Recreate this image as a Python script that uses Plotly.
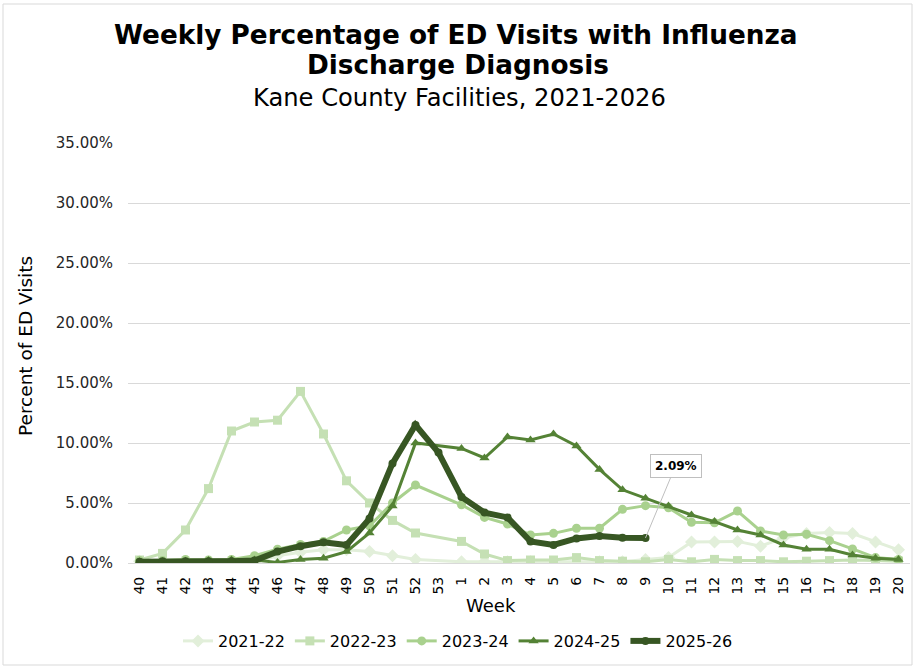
import plotly.graph_objects as go

weeks = ["40", "41", "42", "43", "44", "45", "46", "47", "48", "49", "50", "51", "52", "53",
         "1", "2", "3", "4", "5", "6", "7", "8", "9", "10", "11", "12", "13", "14", "15",
         "16", "17", "18", "19", "20"]

s2021_22 = [0.15, 0.1, 0.1, 0.1, 0.05, 0.05, 0.6, 0.9, 1.1, 1.1, 0.95, 0.6, 0.3, None,
            0.1, 0.1, 0.1, 0.1, 0.05, 0.05, 0.1, 0.1, 0.3, 0.45, 1.75, 1.75, 1.8, 1.4, 2.1,
            2.45, 2.55, 2.45, 1.75, 1.1]
s2022_23 = [0.25, 0.8, 2.75, 6.2, 11.0, 11.75, 11.9, 14.3, 10.75, 6.85, 5.0, 3.55, 2.5, None,
            1.8, 0.75, 0.2, 0.25, 0.25, 0.45, 0.2, 0.15, 0.1, 0.3, 0.1, 0.3, 0.2, 0.2, 0.1,
            0.15, 0.2, 0.25, 0.2, 0.15]
s2023_24 = [0.2, 0.2, 0.3, 0.25, 0.3, 0.6, 1.15, 1.55, 1.8, 2.75, 3.1, 5.0, 6.5, None,
            4.85, 3.8, 3.25, 2.33, 2.47, 2.9, 2.9, 4.47, 4.78, 4.6, 3.4, 3.35, 4.33, 2.67, 2.33,
            2.4, 1.86, 1.17, 0.45, 0.3]
s2024_25 = [0.1, 0.1, 0.15, 0.2, 0.25, 0.25, 0.05, 0.3, 0.4, 0.95, 2.5, 4.75, 10.0, None,
            9.55, 8.75, 10.5, 10.25, 10.75, 9.75, 7.8, 6.1, 5.4, 4.75, 4.0, 3.45, 2.75, 2.33, 1.5,
            1.14, 1.14, 0.67, 0.39, 0.3]
s2025_26 = [0.1, 0.15, 0.15, 0.15, 0.15, 0.2, 0.95, 1.4, 1.72, 1.5, 3.7, 8.3, 11.5, 9.2,
            5.5, 4.2, 3.8, 1.8, 1.5, 2.05, 2.25, 2.1, 2.09, None, None, None, None, None, None,
            None, None, None, None, None]

series_names = ["2021-22", "2022-23", "2023-24", "2024-25", "2025-26"]
series_values = [s2021_22, s2022_23, s2023_24, s2024_25, s2025_26]
colors = ["#E2EFDA", "#C5E0B4", "#A9D18E", "#548235", "#375623"]
symbols = ["diamond", "square", "circle", "triangle-up", "circle"]
widths = [3, 3, 3, 3, 6]
msizes = [10, 9, 9, 9, 8]

label_week = "9"
label_value = s2025_26[weeks.index(label_week)]

FONT = "DejaVu Sans"

fig = go.Figure()
for name, vals, c, sym, w, ms in zip(series_names, series_values, colors, symbols, widths, msizes):
    fig.add_trace(go.Scatter(
        x=weeks, y=vals, name=name, mode="lines+markers",
        line=dict(color=c, width=w),
        marker=dict(symbol=sym, size=ms, color=c),
        connectgaps=True,
    ))

L, R, T, B = 128, 7, 143, 104
W, H = 917, 667
pw, ph = W - L - R, H - T - B


def px_x(p):
    return (p - L) / pw


def px_y(p):
    return (H - B - p) / ph


annotations = [
    dict(text="<b>Weekly Percentage of ED Visits with Influenza</b>", x=px_x(456), y=px_y(35),
         xref="paper", yref="paper", showarrow=False, xanchor="center", yanchor="middle",
         font=dict(family=FONT, size=26.3, color="#000000")),
    dict(text="<b>Discharge Diagnosis</b>", x=px_x(458), y=px_y(65),
         xref="paper", yref="paper", showarrow=False, xanchor="center", yanchor="middle",
         font=dict(family=FONT, size=26.3, color="#000000")),
    dict(text="Kane County Facilities, 2021-2026", x=px_x(459), y=px_y(98),
         xref="paper", yref="paper", showarrow=False, xanchor="center", yanchor="middle",
         font=dict(family=FONT, size=24.2, color="#000000")),
    dict(text="Percent of ED Visits", x=px_x(25), y=px_y(346), textangle=-90,
         xref="paper", yref="paper", showarrow=False, xanchor="center", yanchor="middle",
         font=dict(family=FONT, size=18.5, color="#000000")),
    dict(text="Week", x=px_x(491), y=px_y(605),
         xref="paper", yref="paper", showarrow=False, xanchor="center", yanchor="middle",
         font=dict(family=FONT, size=18, color="#000000")),
    dict(text="<b>2.09%</b>", x=weeks.index(label_week), y=label_value, xref="x", yref="y",
         showarrow=True, arrowhead=0, arrowwidth=1, arrowcolor="#BFBFBF",
         ax=30, ay=-72, bgcolor="#FFFFFF", bordercolor="#BFBFBF", borderwidth=1, borderpad=4,
         font=dict(family=FONT, size=12, color="#000000")),
]

fig.update_layout(
    width=W, height=H, autosize=False,
    margin=dict(l=L, r=R, t=T, b=B, pad=0, autoexpand=False),
    paper_bgcolor="#FFFFFF", plot_bgcolor="#FFFFFF",
    font=dict(family=FONT, color="#404040"),
    showlegend=True,
    legend=dict(orientation="h", x=px_x(458), xanchor="center", y=px_y(641), yanchor="middle",
                font=dict(family=FONT, size=16, color="#000000"), itemwidth=30,
                bgcolor="rgba(0,0,0,0)"),
    annotations=annotations,
    shapes=[dict(type="rect", xref="paper", yref="paper",
                 x0=px_x(3), x1=px_x(912), y0=px_y(665), y1=px_y(4),
                 line=dict(color="#D9D9D9", width=1), fillcolor="rgba(0,0,0,0)", layer="below")],
)

fig.update_xaxes(
    type="category", categoryorder="array", categoryarray=weeks,
    range=[-0.5, len(weeks) - 0.5],
    tickangle=-90, tickfont=dict(family=FONT, size=14, color="#000000"),
    showgrid=False, showline=False, zeroline=False, ticks="", ticklabelstandoff=10,
    fixedrange=True, automargin=False,
)
fig.update_yaxes(
    range=[0, 35], dtick=5, tickformat=".2f", ticksuffix="%",
    tickfont=dict(family=FONT, size=15, color="#262626"),
    showgrid=True, gridcolor="#D9D9D9", gridwidth=1,
    zeroline=True, zerolinecolor="#D9D9D9", zerolinewidth=1,
    showline=False, ticks="", ticklabelstandoff=14, fixedrange=True, automargin=False,
)

fig.write_html("out.html",
               config={"displayModeBar": False},
               post_script="document.body.style.margin='0px';document.body.style.overflow='hidden';")
